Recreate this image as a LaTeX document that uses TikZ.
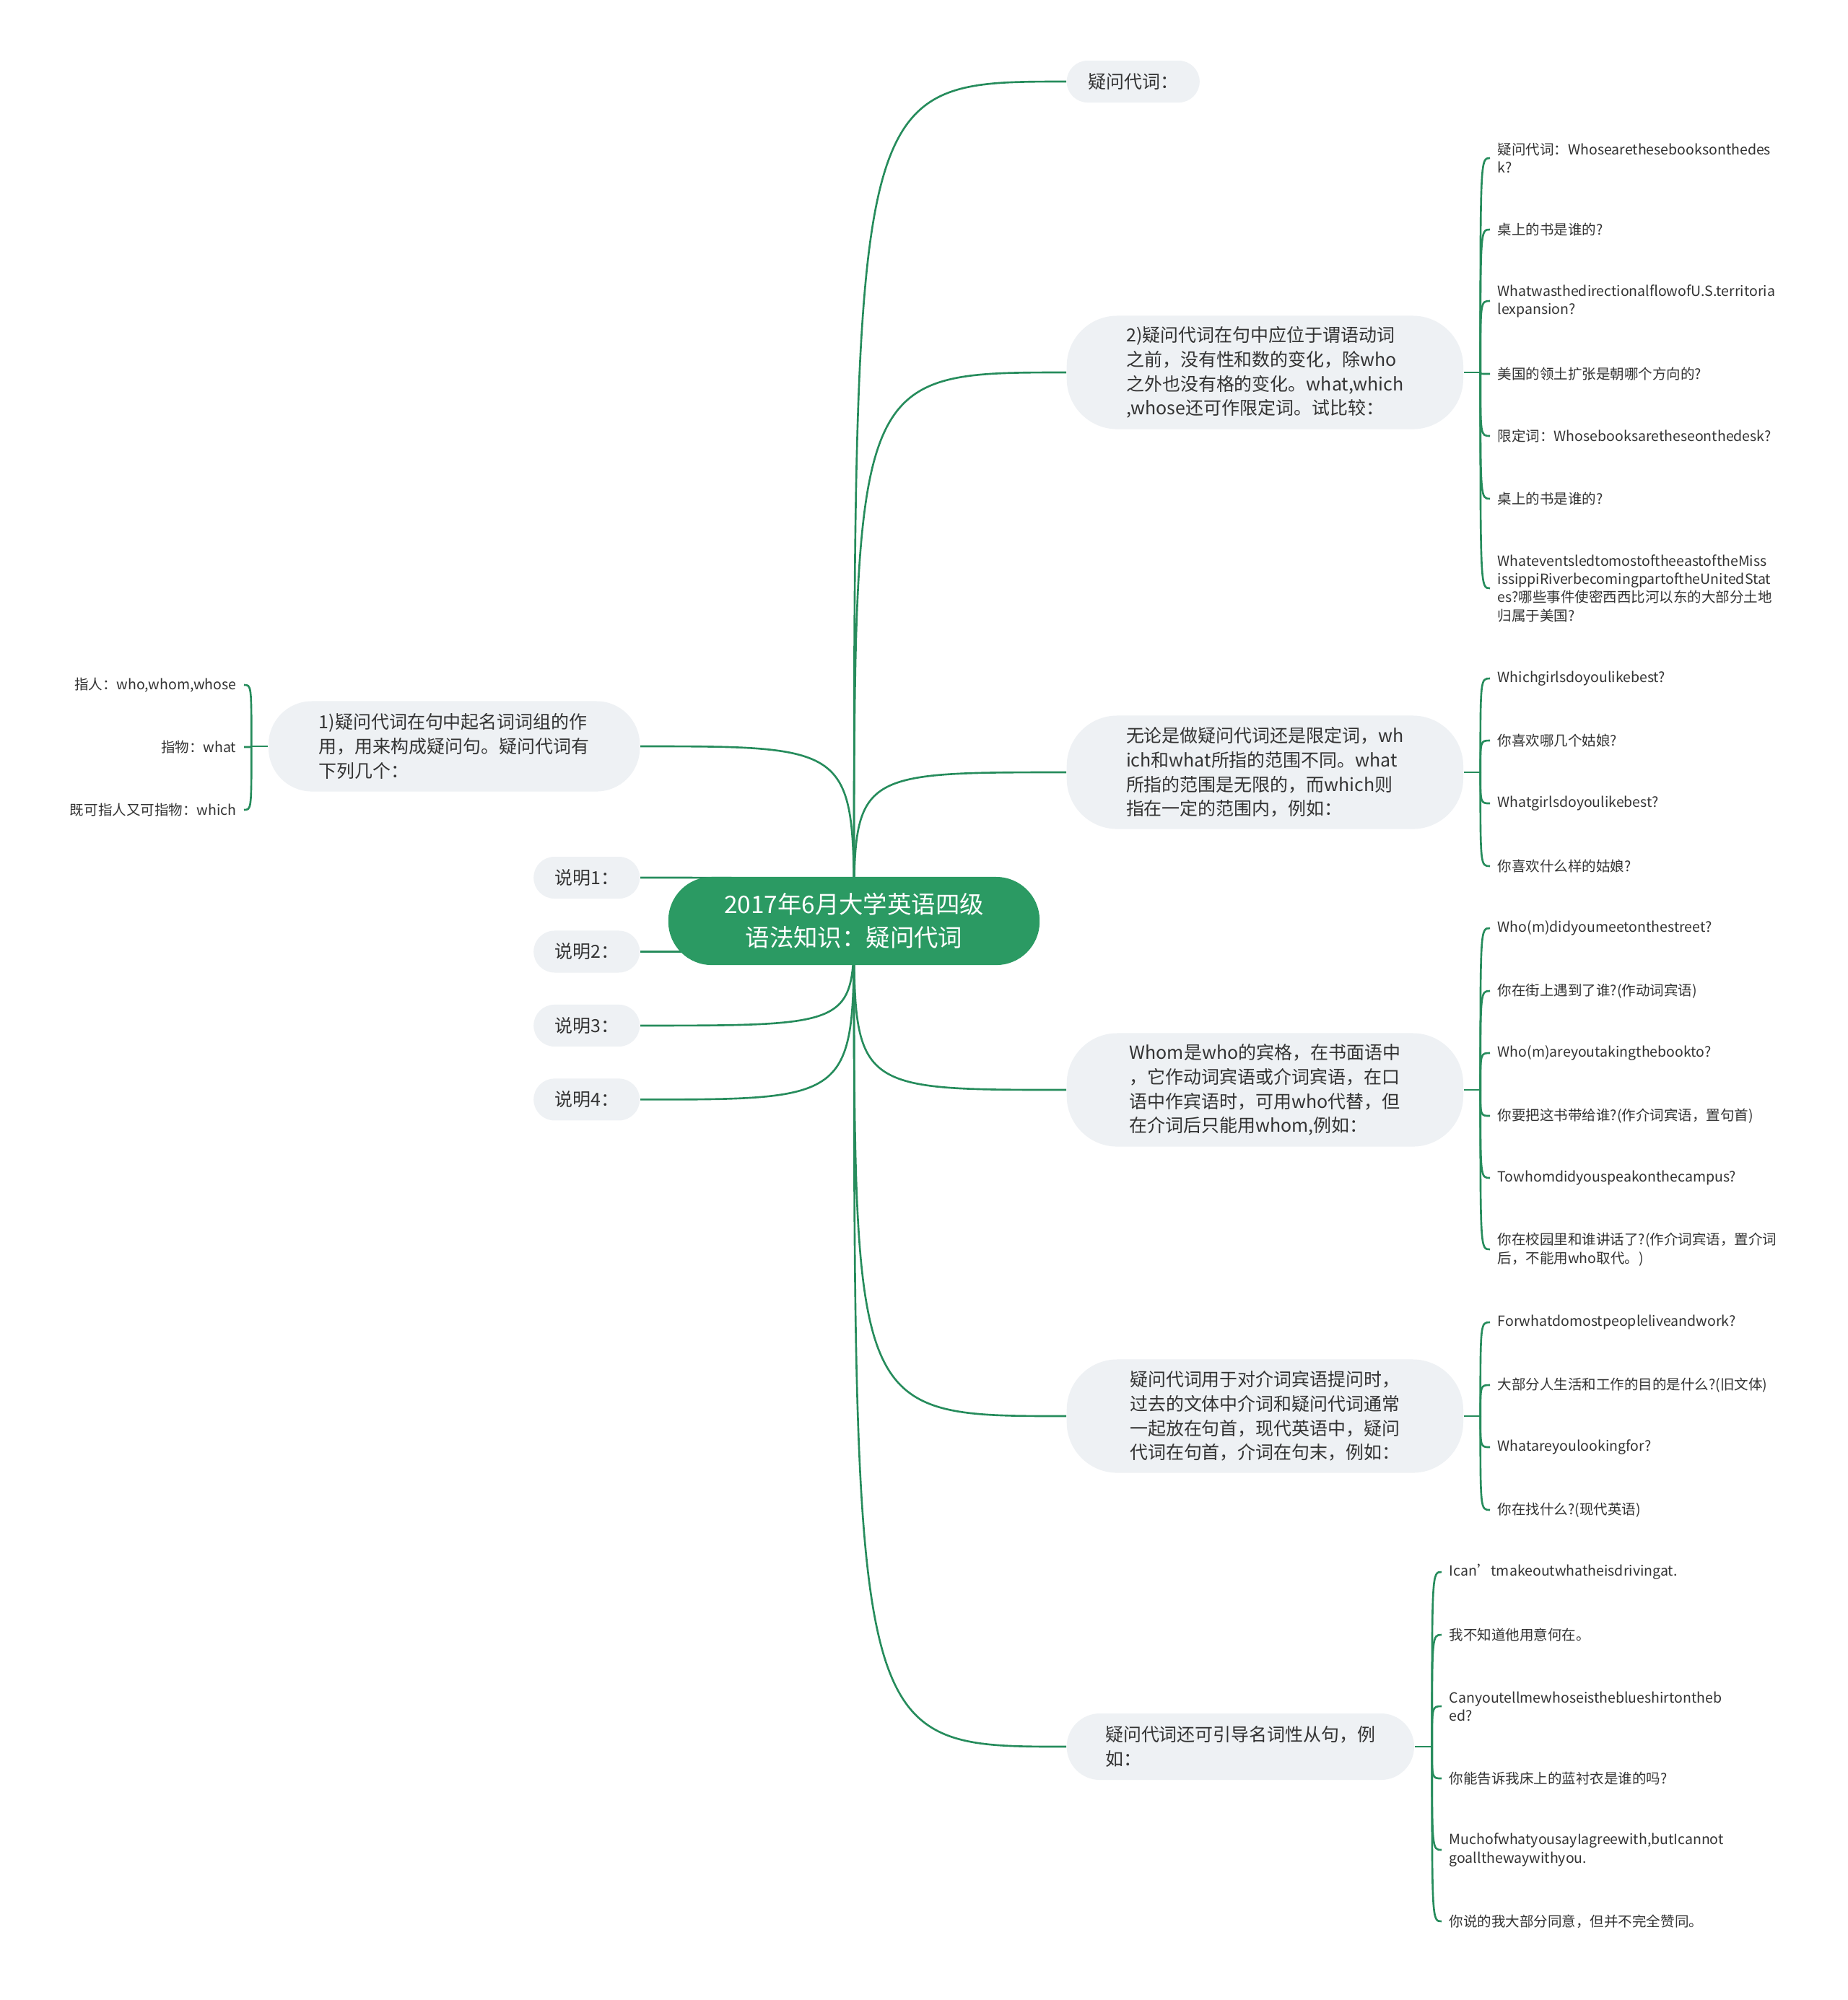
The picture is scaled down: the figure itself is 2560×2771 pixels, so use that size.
\documentclass[tikz,border=0pt]{standalone}
\usepackage{fontspec}
\setmainfont{Noto Sans CJK SC}
\usepackage{xcolor}
\usepackage{tikz}
\usetikzlibrary{positioning,backgrounds}
\definecolor{rootgreen}{HTML}{2B9A63}
\definecolor{linkgreen}{HTML}{268C5C}
\definecolor{boxgray}{HTML}{EEF1F4}
\definecolor{txtgray}{HTML}{333333}
\tikzset{
  root/.style={rectangle, fill=rootgreen, rounded corners=0.6cm, minimum width=5.14cm,
               minimum height=1.22cm, inner sep=0pt, align=center, text=white,
               font=\fontsize{9.5pt}{13.1pt}\selectfont},
  branch/.style={rectangle, fill=boxgray, rounded corners=0.7cm, minimum width=5.49cm,
                 minimum height=1.57cm, inner sep=0pt, align=left, text=txtgray,
                 font=\fontsize{7.1pt}{9.56pt}\selectfont},
  note/.style={branch, rounded corners=0.29cm, minimum width=1.47cm, minimum height=0.58cm},
  leaf/.style={inner xsep=0.1cm, inner ysep=0pt, align=left, text=txtgray,
               font=\fontsize{5.55pt}{7.2pt}\selectfont},
  link/.style={draw=linkgreen, line width=0.75pt},
}
\begin{document}
\begin{tikzpicture}[x=0.01cm, y=-0.01cm]
\useasboundingbox (0,0) rectangle (2560,2771);

% ROOT
\node[root] (root) at (1183,1276) {2017年6月大学英语四级\\语法知识：疑问代词};

% RIGHT BRANCHES
\node[branch, anchor=west, minimum width=1.84cm, minimum height=0.58cm, rounded corners=0.29cm] (pron) at (1477,113) {疑问代词：};
\node[branch, anchor=west] (place) at (1477,516) {2)疑问代词在句中应位于谓语动词\\之前，没有性和数的变化，除who\\之外也没有格的变化。what,which\\,whose还可作限定词。试比较：};
\node[branch, anchor=west] (range) at (1477,1070) {无论是做疑问代词还是限定词，wh\\ich和what所指的范围不同。what\\所指的范围是无限的，而which则\\指在一定的范围内，例如：};
\node[branch, anchor=west] (whom) at (1477,1510) {Whom是who的宾格，在书面语中\\，它作动词宾语或介词宾语，在口\\语中作宾语时，可用who代替，但\\在介词后只能用whom,例如：};
\node[branch, anchor=west] (prep) at (1477,1962) {疑问代词用于对介词宾语提问时，\\过去的文体中介词和疑问代词通常\\一起放在句首，现代英语中，疑问\\代词在句首，介词在句末，例如：};
\node[branch, anchor=west, minimum width=4.81cm, minimum height=0.92cm, rounded corners=0.46cm] (clause) at (1477,2420) {疑问代词还可引导名词性从句，例\\如：};

% LEFT BRANCHES
\node[branch, anchor=east, minimum width=5.14cm, minimum height=1.25cm, rounded corners=0.6cm] (role) at (887,1034) {1)疑问代词在句中起名词词组的作\\用，用来构成疑问句。疑问代词有\\下列几个：};
\node[note, anchor=east] (n1) at (887,1216) {说明1：};
\node[note, below=0.43cm of n1] (n2) {说明2：};
\node[note, below=0.43cm of n2] (n3) {说明3：};
\node[note, below=0.43cm of n3] (n4) {说明4：};

% LEAVES
\node[leaf, anchor=west] (place1) at (2064,219) {疑问代词：Whosearethesebooksonthedes\\k?};
\node[leaf, anchor=west] (place2) at (2064,318) {桌上的书是谁的?};
\node[leaf, anchor=west] (place3) at (2064,417) {WhatwasthedirectionalflowofU.S.territoria\\lexpansion?};
\node[leaf, anchor=west] (place4) at (2064,518) {美国的领土扩张是朝哪个方向的?};
\node[leaf, anchor=west] (place5) at (2064,604) {限定词：Whosebooksaretheseonthedesk?};
\node[leaf, anchor=west] (place6) at (2064,691) {桌上的书是谁的?};
\node[leaf, anchor=west] (place7) at (2064,815) {WhateventsledtomostoftheeastoftheMiss\\issippiRiverbecomingpartoftheUnitedStat\\es?哪些事件使密西西比河以东的大部分土地\\归属于美国?};

\node[leaf, anchor=west] (range1) at (2064,940) {Whichgirlsdoyoulikebest?};
\node[leaf, anchor=west] (range2) at (2064,1026) {你喜欢哪几个姑娘?};
\node[leaf, anchor=west] (range3) at (2064,1113) {Whatgirlsdoyoulikebest?};
\node[leaf, anchor=west] (range4) at (2064,1200) {你喜欢什么样的姑娘?};

\node[leaf, anchor=west] (whom1) at (2064,1286) {Who(m)didyoumeetonthestreet?};
\node[leaf, anchor=west] (whom2) at (2064,1373) {你在街上遇到了谁?(作动词宾语)};
\node[leaf, anchor=west] (whom3) at (2064,1459) {Who(m)areyoutakingthebookto?};
\node[leaf, anchor=west] (whom4) at (2064,1546) {你要把这书带给谁?(作介词宾语，置句首)};
\node[leaf, anchor=west] (whom5) at (2064,1632) {Towhomdidyouspeakonthecampus?};
\node[leaf, anchor=west] (whom6) at (2064,1731) {你在校园里和谁讲话了?(作介词宾语，置介词\\后，不能用who取代。)};

\node[leaf, anchor=west] (prep1) at (2064,1832) {Forwhatdomostpeopleliveandwork?};
\node[leaf, anchor=west] (prep2) at (2064,1919) {大部分人生活和工作的目的是什么?(旧文体)};
\node[leaf, anchor=west] (prep3) at (2064,2005) {Whatareyoulookingfor?};
\node[leaf, anchor=west] (prep4) at (2064,2092) {你在找什么?(现代英语)};

\node[leaf, anchor=west] (clause1) at (1997,2178) {Ican\char"0027tmakeoutwhatheisdrivingat.};
\node[leaf, anchor=west] (clause2) at (1997,2265) {我不知道他用意何在。};
\node[leaf, anchor=west] (clause3) at (1997,2364) {Canyoutellmewhoseistheblueshirtontheb\\ed?};
\node[leaf, anchor=west] (clause4) at (1997,2464) {你能告诉我床上的蓝衬衣是谁的吗?};
\node[leaf, anchor=west] (clause5) at (1997,2563) {MuchofwhatyousayIagreewith,butIcannot\\goallthewaywithyou.};
\node[leaf, anchor=west] (clause6) at (1997,2662) {你说的我大部分同意，但并不完全赞同。};

\node[leaf, anchor=east] (role1) at (338,949) {指人：who,whom,whose};
\node[leaf, anchor=east] (role2) at (338,1035) {指物：what};
\node[leaf, anchor=east] (role3) at (338,1122) {既可指人又可指物：which};

% Connectors from root
\begin{scope}[on background layer]
\fill[white] (0,0) rectangle (2560,2771);
\draw[link] (root.center) .. controls (root.center |- pron.west) .. (pron.west);
\draw[link] (root.center) .. controls (root.center |- place.west) .. (place.west);
\draw[link] (root.center) .. controls (root.center |- range.west) .. (range.west);
\draw[link] (root.center) .. controls (root.center |- whom.west) .. (whom.west);
\draw[link] (root.center) .. controls (root.center |- prep.west) .. (prep.west);
\draw[link] (root.center) .. controls (root.center |- clause.west) .. (clause.west);
\draw[link] (root.center) .. controls (root.center |- role.east) .. (role.east);
\draw[link] (root.center) .. controls (root.center |- n1.east) .. (n1.east);
\draw[link] (root.center) .. controls (root.center |- n2.east) .. (n2.east);
\draw[link] (root.center) .. controls (root.center |- n3.east) .. (n3.east);
\draw[link] (root.center) .. controls (root.center |- n4.east) .. (n4.east);
\end{scope}

% Braces to leaves
\coordinate (jplace) at ([xshift=0.23cm]place.east);
\draw[link] (place.east) -- (jplace);
\draw[link] (jplace) .. controls (jplace |- place1.west) .. (place1.west);
\draw[link] (jplace) .. controls (jplace |- place2.west) .. (place2.west);
\draw[link] (jplace) .. controls (jplace |- place3.west) .. (place3.west);
\draw[link] (jplace) .. controls (jplace |- place4.west) .. (place4.west);
\draw[link] (jplace) .. controls (jplace |- place5.west) .. (place5.west);
\draw[link] (jplace) .. controls (jplace |- place6.west) .. (place6.west);
\draw[link] (jplace) .. controls (jplace |- place7.west) .. (place7.west);

\coordinate (jrange) at ([xshift=0.23cm]range.east);
\draw[link] (range.east) -- (jrange);
\draw[link] (jrange) .. controls (jrange |- range1.west) .. (range1.west);
\draw[link] (jrange) .. controls (jrange |- range2.west) .. (range2.west);
\draw[link] (jrange) .. controls (jrange |- range3.west) .. (range3.west);
\draw[link] (jrange) .. controls (jrange |- range4.west) .. (range4.west);

\coordinate (jwhom) at ([xshift=0.23cm]whom.east);
\draw[link] (whom.east) -- (jwhom);
\draw[link] (jwhom) .. controls (jwhom |- whom1.west) .. (whom1.west);
\draw[link] (jwhom) .. controls (jwhom |- whom2.west) .. (whom2.west);
\draw[link] (jwhom) .. controls (jwhom |- whom3.west) .. (whom3.west);
\draw[link] (jwhom) .. controls (jwhom |- whom4.west) .. (whom4.west);
\draw[link] (jwhom) .. controls (jwhom |- whom5.west) .. (whom5.west);
\draw[link] (jwhom) .. controls (jwhom |- whom6.west) .. (whom6.west);

\coordinate (jprep) at ([xshift=0.23cm]prep.east);
\draw[link] (prep.east) -- (jprep);
\draw[link] (jprep) .. controls (jprep |- prep1.west) .. (prep1.west);
\draw[link] (jprep) .. controls (jprep |- prep2.west) .. (prep2.west);
\draw[link] (jprep) .. controls (jprep |- prep3.west) .. (prep3.west);
\draw[link] (jprep) .. controls (jprep |- prep4.west) .. (prep4.west);

\coordinate (jclause) at ([xshift=0.24cm]clause.east);
\draw[link] (clause.east) -- (jclause);
\draw[link] (jclause) .. controls (jclause |- clause1.west) .. (clause1.west);
\draw[link] (jclause) .. controls (jclause |- clause2.west) .. (clause2.west);
\draw[link] (jclause) .. controls (jclause |- clause3.west) .. (clause3.west);
\draw[link] (jclause) .. controls (jclause |- clause4.west) .. (clause4.west);
\draw[link] (jclause) .. controls (jclause |- clause5.west) .. (clause5.west);
\draw[link] (jclause) .. controls (jclause |- clause6.west) .. (clause6.west);

\coordinate (jrole) at ([xshift=-0.23cm]role.west);
\draw[link] (role.west) -- (jrole);
\draw[link] (jrole) .. controls (jrole |- role1.east) .. (role1.east);
\draw[link] (jrole) .. controls (jrole |- role2.east) .. (role2.east);
\draw[link] (jrole) .. controls (jrole |- role3.east) .. (role3.east);

\end{tikzpicture}
\end{document}
